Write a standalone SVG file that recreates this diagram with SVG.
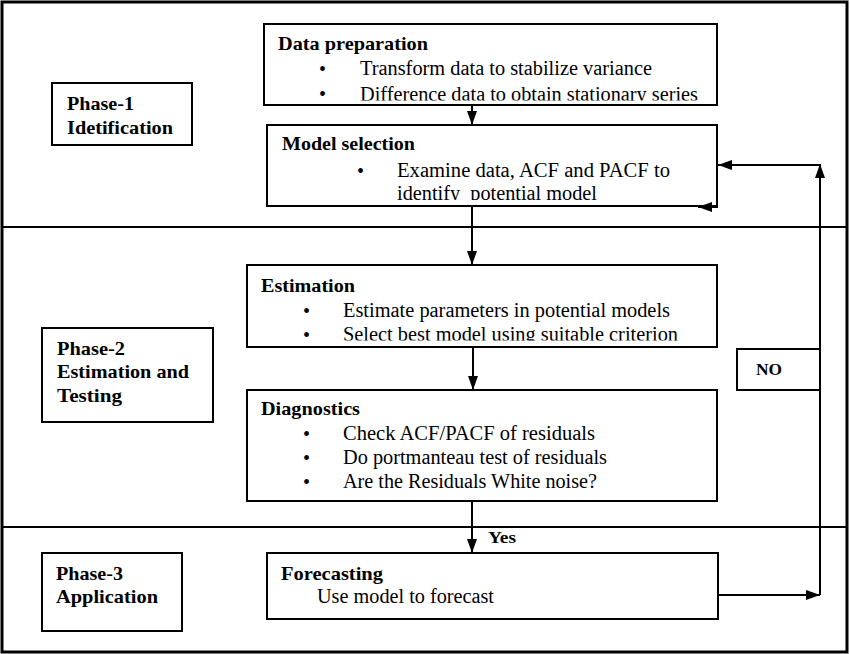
<svg xmlns="http://www.w3.org/2000/svg" width="850" height="654" viewBox="0 0 850 654">
<style>
.box{fill:#fff;stroke:#000;stroke-width:2}
text{font-family:'Liberation Serif','Times New Roman','DejaVu Serif',serif;fill:#000}
.h{font-weight:bold;font-size:19.5px}
.t{font-size:20px}
.b{font-size:20px}
.c{fill:none;stroke:#000;stroke-width:2}
</style>
<defs>
<marker id="ah" viewBox="0 0 14 10" refX="14" refY="5" markerWidth="14" markerHeight="10" markerUnits="userSpaceOnUse" orient="auto">
<path d="M0,0 L14,5 L0,10 Z" fill="#000"/>
</marker>
<clipPath id="c1"><rect x="264" y="24" width="453" height="76.5"/></clipPath>
<clipPath id="c2"><rect x="267" y="125" width="450" height="75"/></clipPath>
<clipPath id="c3"><rect x="247" y="265" width="470" height="75.5"/></clipPath>
</defs>
<rect x="2" y="2" width="845" height="650" fill="#fff" stroke="#000" stroke-width="3"/>
<line x1="2" y1="227" x2="847" y2="227" stroke="#000" stroke-width="2"/>
<line x1="2" y1="527" x2="847" y2="527" stroke="#000" stroke-width="2"/>

<g id="phase1">
<rect class="box" x="52" y="83" width="140" height="62"/>
<text class="h" x="67" y="110" textLength="67" lengthAdjust="spacingAndGlyphs">Phase-1</text>
<text class="h" x="67" y="134" textLength="106" lengthAdjust="spacingAndGlyphs">Idetification</text>
</g>
<g id="phase2">
<rect class="box" x="42" y="328" width="171" height="94"/>
<text class="h" x="57" y="355" textLength="68" lengthAdjust="spacingAndGlyphs">Phase-2</text>
<text class="h" x="57" y="378" textLength="132" lengthAdjust="spacingAndGlyphs">Estimation and</text>
<text class="h" x="57" y="402" textLength="65" lengthAdjust="spacingAndGlyphs">Testing</text>
</g>
<g id="phase3">
<rect class="box" x="42" y="553" width="140" height="78"/>
<text class="h" x="56" y="580" textLength="67" lengthAdjust="spacingAndGlyphs">Phase-3</text>
<text class="h" x="56" y="603" textLength="102" lengthAdjust="spacingAndGlyphs">Application</text>
</g>

<g id="data-preparation">
<rect class="box" x="264" y="24" width="453" height="81"/>
<g clip-path="url(#c1)">
<text class="h" x="278" y="50" textLength="150" lengthAdjust="spacingAndGlyphs">Data preparation</text>
<text class="b" x="319" y="76">•</text>
<text class="t" x="360" y="75" textLength="292" lengthAdjust="spacingAndGlyphs">Transform data to stabilize variance</text>
<text class="b" x="319" y="101">•</text>
<text class="t" x="360" y="101" textLength="338" lengthAdjust="spacingAndGlyphs">Difference data to obtain stationary series</text>
</g>
</g>
<g id="model-selection">
<rect class="box" x="267" y="125" width="450" height="81"/>
<g clip-path="url(#c2)">
<text class="h" x="282" y="150" textLength="133" lengthAdjust="spacingAndGlyphs">Model selection</text>
<text class="b" x="357" y="178">•</text>
<text class="t" x="397" y="177" textLength="273" lengthAdjust="spacingAndGlyphs">Examine data, ACF and PACF to</text>
<text class="t" x="397" y="200" textLength="200" lengthAdjust="spacingAndGlyphs">identify&#160; potential model</text>
</g>
</g>
<g id="estimation">
<rect class="box" x="247" y="265" width="470" height="82"/>
<g clip-path="url(#c3)">
<text class="h" x="261" y="292" textLength="94" lengthAdjust="spacingAndGlyphs">Estimation</text>
<text class="b" x="303" y="318">•</text>
<text class="t" x="343" y="317" textLength="327" lengthAdjust="spacingAndGlyphs">Estimate parameters in potential models</text>
<text class="b" x="303" y="342">•</text>
<text class="t" x="343" y="341" textLength="335" lengthAdjust="spacingAndGlyphs">Select best model using suitable criterion</text>
</g>
</g>
<g id="diagnostics">
<rect class="box" x="247" y="390" width="470" height="111"/>
<text class="h" x="261" y="415" textLength="99" lengthAdjust="spacingAndGlyphs">Diagnostics</text>
<text class="b" x="303" y="441">•</text>
<text class="t" x="343" y="440" textLength="252" lengthAdjust="spacingAndGlyphs">Check ACF/PACF of residuals</text>
<text class="b" x="303" y="465">•</text>
<text class="t" x="343" y="464" textLength="264" lengthAdjust="spacingAndGlyphs">Do portmanteau test of residuals</text>
<text class="b" x="303" y="489">•</text>
<text class="t" x="343" y="488" textLength="254" lengthAdjust="spacingAndGlyphs">Are the Residuals White noise?</text>
</g>
<g id="forecasting">
<rect class="box" x="267" y="553" width="451" height="66"/>
<text class="h" x="281" y="580" textLength="102" lengthAdjust="spacingAndGlyphs">Forecasting</text>
<text class="t" x="317" y="603" textLength="177" lengthAdjust="spacingAndGlyphs">Use model to forecast</text>
</g>
<g id="no-label">
<rect class="box" x="737" y="349" width="83" height="41"/>
<text class="h" x="756" y="375" style="font-size:17px" textLength="26" lengthAdjust="spacingAndGlyphs">NO</text>
</g>

<g id="connectors">
<path class="c" d="M472,105 V125" marker-end="url(#ah)"/>
<path class="c" d="M472,206 V265" marker-end="url(#ah)"/>
<path class="c" d="M473,347 V390" marker-end="url(#ah)"/>
<path class="c" d="M472,501 V553" marker-end="url(#ah)"/>
<path class="c" d="M718,595 H820" marker-end="url(#ah)"/>
<path class="c" d="M820,595 V164" marker-end="url(#ah)"/>
<path class="c" d="M820,165 H718" marker-end="url(#ah)"/>
<path class="c" d="M717,165 V207 H698" marker-end="url(#ah)"/>
<text class="h" x="488" y="543" style="font-size:16px" textLength="28" lengthAdjust="spacingAndGlyphs">Yes</text>
</g>
</svg>
